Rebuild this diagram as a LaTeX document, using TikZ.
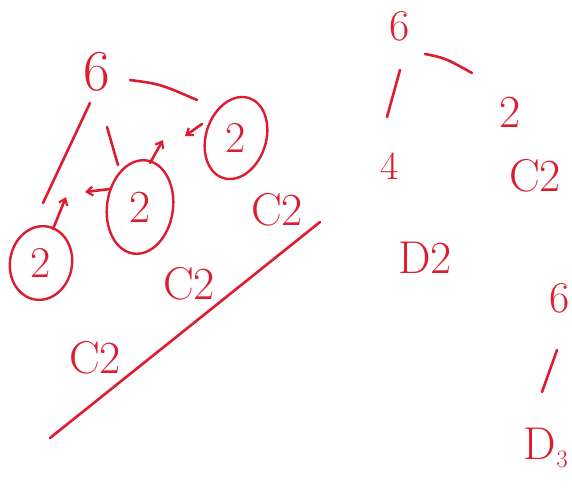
\documentclass[tikz,border=0pt]{standalone}
\usetikzlibrary{shapes.geometric,arrows.meta}
\definecolor{ink}{RGB}{222,28,48}
\tikzset{
  pen/.style={draw=ink, line width=2.6pt, line cap=round, line join=round},
  arr/.style={pen, -{Straight Barb[length=6pt,width=9pt,line width=2.2pt]}},
  txt/.style={text=ink, inner sep=0pt, font=\fontsize{#1}{#1}\selectfont},
  txt/.default=48,
  ring/.style={ellipse, draw=ink, line width=2.4pt, inner sep=0pt}
}
\begin{document}
\begin{tikzpicture}[x=1pt,y=-1pt]
\useasboundingbox[fill=white] (0,0) rectangle (572,488);
% ---- left lattice ----
\node[txt=58] (six) at (97,72) {6};
\node[ring, minimum width=62pt, minimum height=74pt, rotate=-10] (cl) at (41,263) {};
\node[txt=44] (tl) at (41,263) {2};
\node[ring, minimum width=66pt, minimum height=94pt, rotate=-8] (cm) at (140,207) {};
\node[txt=46] (tm) at (140,207) {2};
\node[ring, minimum width=60pt, minimum height=84pt, rotate=-18] (cr) at (236,138) {};
\node[txt=44] (tr) at (236,138) {2};
\coordinate (a1) at (90,103);  \coordinate (a2) at (43,203);
\coordinate (b1) at (107,127); \coordinate (b2) at (118,165);
\coordinate (d1) at (130,80);  \coordinate (d2) at (197,100);
\draw[pen] (a1) -- (a2);
\draw[pen] (b1) -- (b2);
\draw[pen] (d1) .. controls (160,84) .. (d2);
% small arrows
\coordinate (p1) at (53,229);  \coordinate (p2) at (66,197);
\coordinate (q1) at (110,189); \coordinate (q2) at (85,192);
\coordinate (r1) at (150,163); \coordinate (r2) at (163,140);
\coordinate (s1) at (202,124); \coordinate (s2) at (185,136);
\draw[arr] (p1) -- (p2);
\draw[arr] (q1) -- (q2);
\draw[arr] (r1) -- (r2);
\draw[arr] (s1) -- (s2);
% C2 labels
\node[txt=46] (ca) at (277,210) {C2};
\node[txt=46] (cb) at (189,284) {C2};
\node[txt=46] (cc) at (95,358) {C2};
\coordinate (u1) at (50,438); \coordinate (u2) at (320,222);
\draw[pen] (u1) -- (u2);
% ---- right lattice ----
\node[txt=44] (six2) at (400,26) {6};
\coordinate (e1) at (425,54); \coordinate (e2) at (472,73);
\draw[pen] (e1) .. controls (445,58) .. (e2);
\coordinate (f1) at (400,70); \coordinate (f2) at (387,117);
\draw[pen] (f1) -- (f2);
\node[txt=40] (four) at (390,166) {4};
\node[txt=46] (two) at (510,112) {2};
\node[txt=46] (c2r) at (535,176) {C2};
\node[txt=46] (d2) at (425,258) {D2};
% ---- far right ----
\node[txt=44] (six3) at (560,298) {6};
\coordinate (g1) at (557,350); \coordinate (g2) at (542,392);
\draw[pen] (g1) -- (g2);
\node[txt=46] (d3) at (546,448) {D$_3$};
\end{tikzpicture}
\end{document}
